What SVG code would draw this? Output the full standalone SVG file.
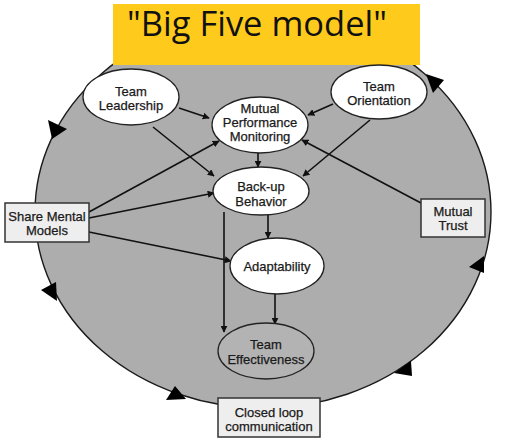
<svg xmlns="http://www.w3.org/2000/svg" width="510" height="442" viewBox="0 0 510 442">
<defs>
<style>
.node ellipse{fill:#fff;stroke:#222;stroke-width:1.3}
.box rect{fill:#eeeeee;stroke:#333;stroke-width:1.5}
.lbl{font-family:"Liberation Sans",Arial,sans-serif;font-size:13px;fill:#1a1a1a;stroke:#1a1a1a;stroke-width:0.25;text-anchor:middle}
.edge{stroke:#111;stroke-width:1.6;fill:none;marker-end:url(#ah)}
.loop{fill:#000}
</style>
<marker id="ah" viewBox="0 0 10 10" refX="9" refY="5" markerWidth="7" markerHeight="7" markerUnits="userSpaceOnUse" orient="auto">
<path d="M0,0 L10,5 L0,10 z" fill="#111"/>
</marker>
</defs>
<rect width="510" height="442" fill="#fff"/>
<g id="cycle">
<ellipse cx="263" cy="212" rx="228" ry="196" fill="#adadad" stroke="#1a1a1a" stroke-width="1.4"/>
<polygon class="loop" points="48,120 67,129 52,139"/>
<polygon class="loop" points="41,290 56,282 57,301"/>
<polygon class="loop" points="166,400 175,386 186,399"/>
<polygon class="loop" points="394,373 411,361 412,376"/>
<polygon class="loop" points="469,267 484,256 484,273"/>
<polygon class="loop" points="426,74 444,80 433,93"/>
</g>
<g id="title">
<rect x="113" y="4" width="307" height="61" fill="#fecb1c"/>
<text x="257" y="36" font-family="'Open Sans',sans-serif" font-size="34" fill="#111" text-anchor="middle" textLength="260" lengthAdjust="spacingAndGlyphs">"Big Five model"</text>
</g>
<g id="connectors">
<line class="edge" x1="179" y1="108" x2="209" y2="118"/>
<line class="edge" x1="153" y1="127" x2="214" y2="176"/>
<line class="edge" x1="333" y1="104" x2="308" y2="115"/>
<line class="edge" x1="370" y1="120" x2="303" y2="176"/>
<line class="edge" x1="421" y1="203" x2="302" y2="140"/>
<line class="edge" x1="258" y1="153" x2="258" y2="167"/>
<line class="edge" x1="89" y1="212" x2="219" y2="141"/>
<line class="edge" x1="89" y1="218" x2="214" y2="193"/>
<line class="edge" x1="89" y1="232" x2="231" y2="261"/>
<line class="edge" x1="268" y1="215" x2="268" y2="238"/>
<line class="edge" x1="224" y1="212" x2="224" y2="332"/>
<line class="edge" x1="275" y1="294" x2="275" y2="324"/>
</g>
<g id="team-leadership" class="node">
<ellipse cx="131" cy="97" rx="48" ry="28"/>
<text class="lbl" x="131" y="96">Team</text>
<text class="lbl" x="131" y="110">Leadership</text>
</g>
<g id="team-orientation" class="node">
<ellipse cx="379" cy="92" rx="48" ry="27"/>
<text class="lbl" x="379" y="91">Team</text>
<text class="lbl" x="379" y="105">Orientation</text>
</g>
<g id="mutual-performance-monitoring" class="node">
<ellipse cx="260" cy="125" rx="48" ry="28"/>
<text class="lbl" x="260" y="113">Mutual</text>
<text class="lbl" x="260" y="127">Performance</text>
<text class="lbl" x="260" y="141">Monitoring</text>
</g>
<g id="back-up-behavior" class="node">
<ellipse cx="261" cy="191" rx="48" ry="24"/>
<text class="lbl" x="261" y="191">Back-up</text>
<text class="lbl" x="261" y="206">Behavior</text>
</g>
<g id="adaptability" class="node">
<ellipse cx="277" cy="266" rx="47" ry="28"/>
<text class="lbl" x="277" y="271">Adaptability</text>
</g>
<g id="team-effectiveness" class="node">
<ellipse cx="266" cy="351" rx="48" ry="28" style="fill:#b3b3b3"/>
<text class="lbl" x="266" y="349">Team</text>
<text class="lbl" x="266" y="364">Effectiveness</text>
</g>
<g id="share-mental-models" class="box">
<rect x="5" y="203" width="84" height="39"/>
<text class="lbl" x="47" y="221">Share Mental</text>
<text class="lbl" x="47" y="235">Models</text>
</g>
<g id="mutual-trust" class="box">
<rect x="421" y="199" width="64" height="38"/>
<text class="lbl" x="453" y="216">Mutual</text>
<text class="lbl" x="453" y="230">Trust</text>
</g>
<g id="closed-loop-communication" class="box">
<rect x="218" y="398" width="102" height="39"/>
<text class="lbl" x="269" y="417">Closed loop</text>
<text class="lbl" x="269" y="431">communication</text>
</g>
</svg>
